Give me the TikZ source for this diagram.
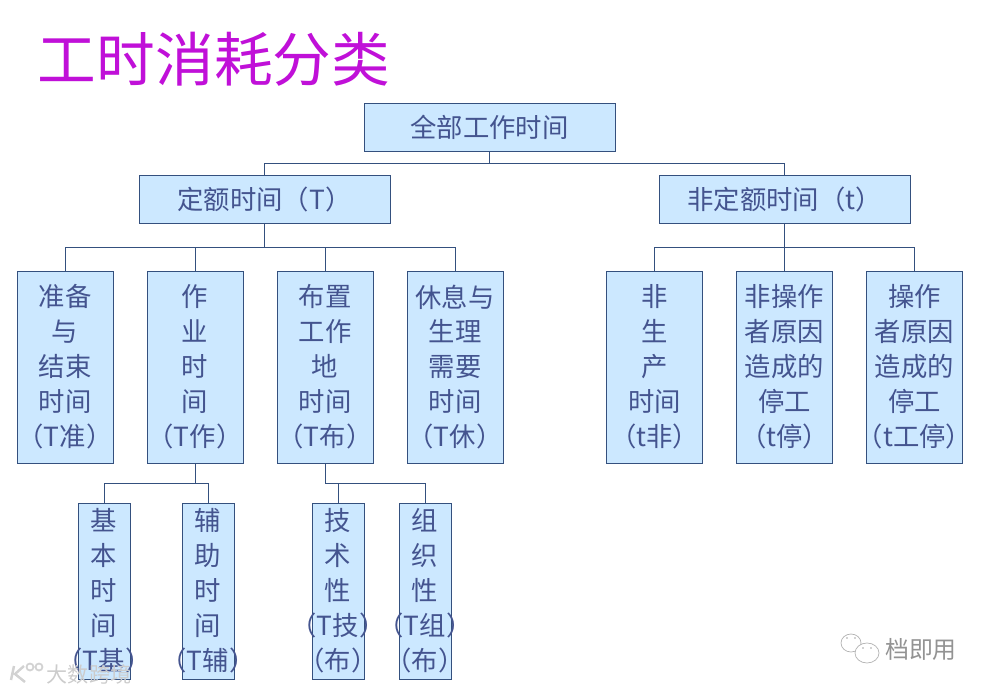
\documentclass[tikz,border=0pt]{standalone}
\usepackage{fontspec}
\setmainfont{Noto Sans CJK SC}
\definecolor{boxfill}{HTML}{CCE8FF}
\definecolor{boxline}{HTML}{34507E}
\definecolor{boxtext}{HTML}{44548F}
\definecolor{titlecol}{HTML}{C010D8}
\newcommand{\spill}[1]{\hbox to 0pt{\hss #1\hss}}
\tikzset{
  boxnode/.style={draw=boxline, fill=boxfill, text=boxtext, inner sep=0pt, align=center, line width=.5pt,
    font=\fontsize{15}{19.9}\selectfont},
  widebox/.style={boxnode, minimum width=5.02cm, minimum height=.96cm},
  tallbox/.style={boxnode, minimum width=1.92cm, minimum height=3.84cm},
  thinbox/.style={boxnode, minimum width=1.04cm, minimum height=3.52cm},
  link/.style={draw=boxline, line width=.5pt}
}
\begin{document}
\begin{tikzpicture}[x=.02cm, y=-.02cm]
  \useasboundingbox (0,0) rectangle (990,693);
  \node[text=titlecol, font=\fontsize{33.4}{33.4}\selectfont, inner sep=0pt] (title) at (214,59) {工时消耗分类};

  \node[widebox] (quanbu) at (489.5,127) {全部工作时间};
  \node[widebox] (dinge) at (264.5,199) {定额时间（T）};
  \node[widebox] (feiding) at (784.5,199) {非定额时间（t）};

  \node[tallbox] (zhunbei) at (65,367) {准备\\与\\结束\\时间\\\spill{（T准）}};
  \node[tallbox] (zuoye) at (195,367) {作\\业\\时\\间\\\spill{（T作）}};
  \node[tallbox] (buzhi) at (325,367) {布置\\工作\\地\\时间\\\spill{（T布）}};
  \node[tallbox] (xiuxi) at (455,367) {休息与\\生理\\需要\\时间\\\spill{（T休）}};
  \node[tallbox] (feisheng) at (654.5,367) {非\\生\\产\\时间\\\spill{（t非）}};
  \node[tallbox] (feicao) at (784.5,367) {非操作\\者原因\\造成的\\停工\\\spill{（t停）}};
  \node[tallbox] (caozuo) at (914.5,367) {操作\\者原因\\造成的\\停工\\\spill{（t工停）}};

  \node[thinbox] (jiben) at (104,591) {基\\本\\时\\间\\\spill{（T基）}};
  \node[thinbox] (fuzhu) at (208,591) {辅\\助\\时\\间\\\spill{（T辅）}};
  \node[thinbox] (jishu) at (338,591) {技\\术\\性\\\spill{（T技）}\\\spill{（布）}};
  \node[thinbox] (zuzhi) at (425,591) {组\\织\\性\\\spill{（T组）}\\\spill{（布）}};

  \draw[link] (quanbu.south) -- ++(0,12) coordinate (busa) -| (dinge.north);
  \draw[link] (busa) -| (feiding.north);
  \draw[link] (dinge.south) -- ++(0,24) coordinate (busb);
  \foreach \n in {zhunbei,zuoye,buzhi,xiuxi}
  \draw[link] (busb) -| (\n.north);
  \draw[link] (feiding.south) -- ++(0,24) coordinate (busc);
  \foreach \n in {feisheng,feicao,caozuo}
  \draw[link] (busc) -| (\n.north);
  \draw[link] (zuoye.south) -- ++(0,20) coordinate (busd);
  \foreach \n in {jiben,fuzhu}
  \draw[link] (busd) -| (\n.north);
  \draw[link] (buzhi.south) -- ++(0,20) coordinate (buse);
  \foreach \n in {jishu,zuzhi}
  \draw[link] (buse) -| (\n.north);

  % marks in the corners
  \draw[gray!60, fill=white, line width=.4pt] (851,643) ellipse (10 and 9);
  \draw[gray!60, fill=white, line width=.4pt] (867,653) ellipse (12 and 10);
  \fill[gray!70] (847,638) circle (.8) (855,638) circle (.8) (863,648) circle (.8) (871,648) circle (.8);
  \node[text=gray!85, font=\fontsize{13.6}{14}\selectfont, inner sep=0pt] (dangji) at (921,649) {档即用};
  \node[text=gray!40, font=\fontsize{12}{12}\selectfont, inner sep=0pt] (dashu) at (89,674) {大数跨境};
  \draw[gray!35, line width=1.4pt] (14,666) -- (11,680) (24,666) -- (15,674) -- (25,682);
  \draw[gray!35, line width=1pt] (30,667) circle (3.5) (39,667) circle (3.5);
\end{tikzpicture}
\end{document}
